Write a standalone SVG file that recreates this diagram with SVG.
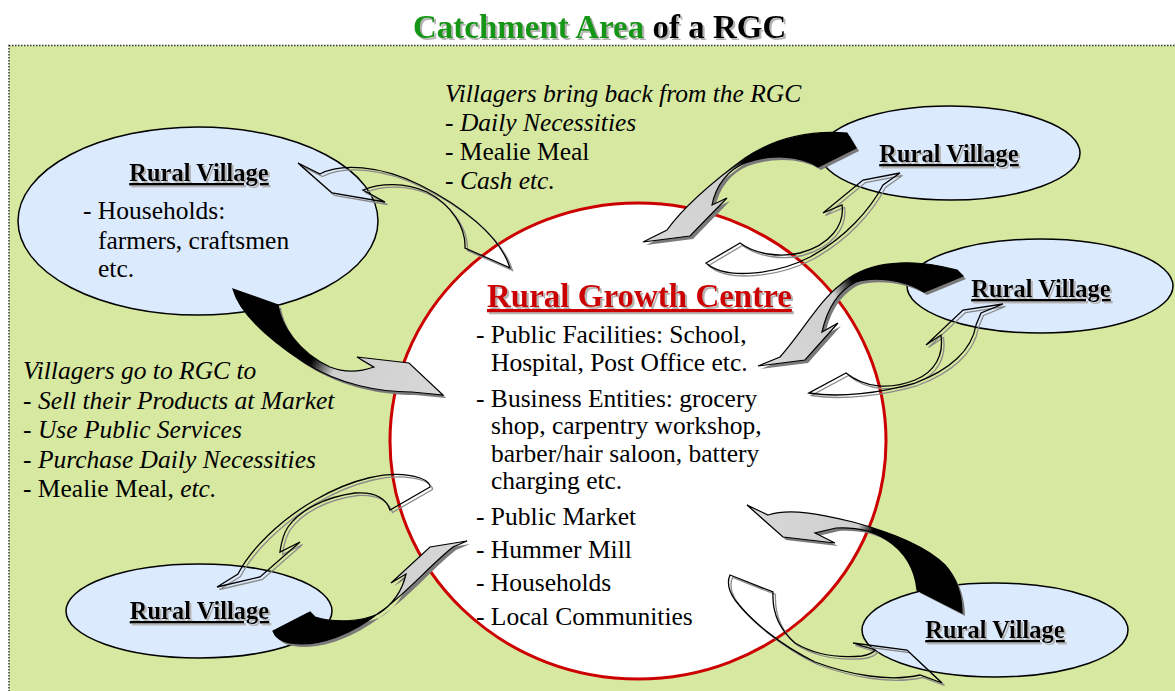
<svg xmlns="http://www.w3.org/2000/svg" xmlns:xlink="http://www.w3.org/1999/xlink" width="1175" height="691" viewBox="0 0 1175 691">
<style>
text{font-family:"Liberation Serif","Times New Roman",serif;fill:#000}
.title{font-size:33px;font-weight:bold}
.body{font-size:25.5px}
.it{font-style:italic}
.vl{font-size:24.5px;font-weight:bold;text-decoration:underline;text-anchor:middle}
.head{font-size:33px;font-weight:bold;text-decoration:underline;fill:#cc0000}
.village{fill:#dbeafd;stroke:#000;stroke-width:1.5}
.sh{fill:#7a7a7a;stroke:none}
.shl{fill:none;stroke:#8a8a8a;stroke-width:1.3}
.sol{stroke:#000;stroke-width:1.2;stroke-linejoin:miter}
.out{fill:none;stroke:#000;stroke-width:1.3}
</style>
<defs>
<filter id="ts" x="-5%" y="-20%" width="115%" height="160%">
<feOffset in="SourceAlpha" dx="1.5" dy="1.5" result="o"/>
<feFlood flood-color="#b4b4b4"/>
<feComposite in2="o" operator="in" result="s"/>
<feMerge><feMergeNode in="s"/><feMergeNode in="SourceGraphic"/></feMerge>
</filter>
<linearGradient id="gA" gradientUnits="userSpaceOnUse" x1="255" y1="297" x2="440" y2="392"><stop offset="0" stop-color="#000"/><stop offset="0.38" stop-color="#000"/><stop offset="0.5" stop-color="#cfcfcf"/><stop offset="1" stop-color="#d8d8d8"/></linearGradient>
<linearGradient id="gB" gradientUnits="userSpaceOnUse" x1="835" y1="150" x2="645" y2="240"><stop offset="0" stop-color="#000"/><stop offset="0.42" stop-color="#000"/><stop offset="0.52" stop-color="#cfcfcf"/><stop offset="1" stop-color="#d8d8d8"/></linearGradient>
<linearGradient id="gC" gradientUnits="userSpaceOnUse" x1="945" y1="280" x2="758" y2="366"><stop offset="0" stop-color="#000"/><stop offset="0.41" stop-color="#000"/><stop offset="0.52" stop-color="#cfcfcf"/><stop offset="1" stop-color="#d8d8d8"/></linearGradient>
<linearGradient id="gD" gradientUnits="userSpaceOnUse" x1="292" y1="630" x2="467" y2="541"><stop offset="0" stop-color="#000"/><stop offset="0.40" stop-color="#000"/><stop offset="0.49" stop-color="#cfcfcf"/><stop offset="1" stop-color="#d8d8d8"/></linearGradient>
<linearGradient id="gE" gradientUnits="userSpaceOnUse" x1="938" y1="601" x2="747" y2="505"><stop offset="0" stop-color="#000"/><stop offset="0.42" stop-color="#000"/><stop offset="0.49" stop-color="#cfcfcf"/><stop offset="1" stop-color="#d8d8d8"/></linearGradient>
<path id="a1" d="M233,289 L278,305 C281,325 298,352 330,367 C345,373 360,372 374,367 L357,357 L409,363 L443,395 L412,392 C380,392 340,385 305,363 C270,340 240,315 233,289 Z"/>
<path id="a2" d="M510,268 L465,248 C466,228 452,205 427,192 C405,182 380,183 363,190 L385,202 L332,193 L298,163 L320,174 C340,163 380,165 420,185 C460,205 500,235 510,268 Z"/>
<path id="b1" d="M847,133 L856,148 L818,167 C800,155 770,154 745,163 C728,170 716,185 712,205 L727,198 L690,236 L643,242 L667,230 C685,205 715,180 745,158 C775,138 810,130 847,133 Z"/>
<path id="b2" d="M740,243 L706,263 C725,280 775,275 810,257 C845,238 870,210 883,185 L900,173 L863,180 L823,213 L842,205 C845,225 830,245 800,253 C780,258 755,254 740,243 Z"/>
<path id="c1" d="M957,270 L963,276 L924,292 C905,280 875,276 856,282 C840,290 828,305 822,332 L838,323 L805,360 L758,366 L780,357 C800,335 820,300 840,285 C862,265 900,255 957,270 Z"/>
<path id="c2" d="M846,373 L809,393 C840,398 880,393 915,383 C950,370 972,350 976,325 L981,313 L1003,304 L963,310 L926,345 L941,335 C944,355 935,372 915,380 C890,390 865,388 846,373 Z"/>
<path id="d1" d="M273,631 L310,612 L315,617 C335,623 360,622 378,614 C392,605 402,592 406,574 L391,583 L430,547 L467,541 L453,547 C430,565 405,595 380,612 C355,632 320,648 290,643 C280,641 275,637 273,631 Z"/>
<path id="d2" d="M430,487 L390,510 C385,495 370,492 355,493 C325,497 300,510 288,527 C282,536 281,545 280,552 L300,542 L260,577 L217,587 L238,574 C250,550 280,520 315,500 C350,480 390,468 420,478 C428,481 430,484 430,487 Z"/>
<path id="e1" d="M962,613 L917,590 C915,570 905,552 887,540 C872,530 855,527 836,528 L815,533 L835,543 L783,537 L747,505 L768,515 C790,508 820,514 853,522 C890,532 925,545 945,565 C958,580 962,598 962,613 Z"/>
<path id="e2" d="M730,575 L773,592 C772,612 780,630 795,643 C815,655 840,658 862,656 C868,655 872,654 875,650 L853,643 L907,650 L942,683 L920,675 C890,682 850,675 815,662 C780,645 750,620 735,600 C728,590 727,582 730,575 Z"/>
</defs>

<g id="background">
<rect x="9" y="45.5" width="1175" height="660" fill="#d7e8a0" stroke="#333" stroke-width="1.5" stroke-dasharray="1.5 1.5"/>
</g>

<g id="title">
<text class="title" x="413" y="38" filter="url(#ts)"><tspan fill="#149614">Catchment Area</tspan> of a RGC</text>
</g>

<g id="text-bring-back">
<text class="body it" x="445" y="102">Villagers bring back from the RGC</text>
<text class="body" x="445" y="131">- <tspan class="it">Daily Necessities</tspan></text>
<text class="body" x="445" y="160">- Mealie Meal</text>
<text class="body" x="445" y="189">- <tspan class="it">Cash etc.</tspan></text>
</g>

<g id="text-go-to">
<text class="body it" x="23" y="379">Villagers go to RGC to</text>
<text class="body" x="23" y="408.5">- <tspan class="it">Sell their Products at Market</tspan></text>
<text class="body" x="23" y="438">- <tspan class="it">Use Public Services</tspan></text>
<text class="body" x="23" y="467.5">- <tspan class="it">Purchase Daily Necessities</tspan></text>
<text class="body" x="23" y="497">- Mealie Meal,<tspan class="it"> etc.</tspan></text>
</g>

<g id="node-rgc">
<ellipse cx="638" cy="441" rx="248" ry="238" fill="#fff" stroke="#cc0000" stroke-width="3"/>
<text class="head" x="487" y="307" filter="url(#ts)">Rural Growth Centre</text>
<text class="body" x="476" y="342.5">- Public Facilities: School,</text>
<text class="body" x="491" y="371">Hospital, Post Office etc.</text>
<text class="body" x="476" y="406.5">- Business Entities: grocery</text>
<text class="body" x="491" y="434">shop, carpentry workshop,</text>
<text class="body" x="491" y="461.5">barber/hair saloon, battery</text>
<text class="body" x="491" y="489">charging etc.</text>
<text class="body" x="476" y="525">- Public Market</text>
<text class="body" x="476" y="558">- Hummer Mill</text>
<text class="body" x="476" y="591">- Households</text>
<text class="body" x="476" y="625">- Local Communities</text>
</g>

<g id="node-village-topleft">
<ellipse class="village" cx="198" cy="221" rx="180" ry="94"/>
<text class="vl" x="199" y="181" filter="url(#ts)">Rural Village</text>
<text class="body" x="83" y="218.5">- Households:</text>
<text class="body" x="98" y="248.5">farmers, craftsmen</text>
<text class="body" x="98" y="277">etc.</text>
</g>

<g id="node-village-topright">
<ellipse class="village" cx="950" cy="153" rx="130" ry="47"/>
<text class="vl" x="949" y="162" filter="url(#ts)">Rural Village</text>
</g>

<g id="node-village-right">
<ellipse class="village" cx="1040" cy="286" rx="133" ry="47"/>
<text class="vl" x="1041" y="297" filter="url(#ts)">Rural Village</text>
</g>

<g id="node-village-bottomleft">
<ellipse class="village" cx="199" cy="611" rx="133" ry="47"/>
<text class="vl" x="199.5" y="619" filter="url(#ts)">Rural Village</text>
</g>

<g id="node-village-bottomright">
<ellipse class="village" cx="995" cy="630" rx="133" ry="47"/>
<text class="vl" x="995" y="638" filter="url(#ts)">Rural Village</text>
</g>

<g id="connectors">
<use xlink:href="#a1" class="sh" transform="translate(3,3)"/>
<use xlink:href="#a1" class="sol" fill="url(#gA)"/>
<use xlink:href="#a2" class="shl" transform="translate(2.5,2.5)"/>
<use xlink:href="#a2" class="out"/>
<use xlink:href="#b1" class="sh" transform="translate(3,3)"/>
<use xlink:href="#b1" class="sol" fill="url(#gB)"/>
<use xlink:href="#b2" class="shl" transform="translate(2.5,2.5)"/>
<use xlink:href="#b2" class="out"/>
<use xlink:href="#c1" class="sh" transform="translate(3,3)"/>
<use xlink:href="#c1" class="sol" fill="url(#gC)"/>
<use xlink:href="#c2" class="shl" transform="translate(2.5,2.5)"/>
<use xlink:href="#c2" class="out"/>
<use xlink:href="#d1" class="sh" transform="translate(3,3)"/>
<use xlink:href="#d1" class="sol" fill="url(#gD)"/>
<use xlink:href="#d2" class="shl" transform="translate(2.5,2.5)"/>
<use xlink:href="#d2" class="out"/>
<use xlink:href="#e1" class="sh" transform="translate(3,3)"/>
<use xlink:href="#e1" class="sol" fill="url(#gE)"/>
<use xlink:href="#e2" class="shl" transform="translate(2.5,2.5)"/>
<use xlink:href="#e2" class="out"/>
</g>
</svg>
